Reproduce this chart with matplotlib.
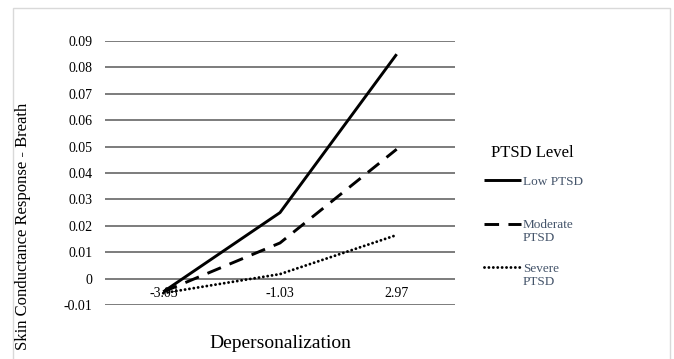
import matplotlib
matplotlib.use("Agg")
import matplotlib.pyplot as plt
from matplotlib.patches import Rectangle
from matplotlib.legend_handler import HandlerLine2D

categories = ["-3.03", "-1.03", "2.97"]
low_ptsd = [-0.005, 0.025, 0.085]
moderate_ptsd = [-0.005, 0.0135, 0.049]
severe_ptsd = [-0.0055, 0.0017, 0.0165]
series_labels = ["Low PTSD\n", "Moderate\nPTSD", "Severe\nPTSD"]
yticks = [-0.01, 0, 0.01, 0.02, 0.03, 0.04, 0.05, 0.06, 0.07, 0.08, 0.09]
ytick_labels = ["-0.01", "0", "0.01", "0.02", "0.03", "0.04", "0.05", "0.06", "0.07", "0.08", "0.09"]

plt.rcParams['font.family'] = ['Liberation Serif', 'DejaVu Serif']

W, H = 674, 359
fig = plt.figure(figsize=(W / 100, H / 100), dpi=100)
fig.patch.set_facecolor('white')

# chart border
fig.patches.append(Rectangle((13 / W, -0.1), (670 - 13) / W, 1.1 - 8 / H,
                             transform=fig.transFigure, fill=False,
                             edgecolor='#d9d9d9', linewidth=1.0))

left, right = 105 / W, 455 / W
top_px, bot_px = 41, 305
ax = fig.add_axes([left, (H - bot_px) / H, right - left, (bot_px - top_px) / H])
ax.set_facecolor('none')

x = list(range(len(categories)))
ax.plot(x, low_ptsd, color='black', linewidth=2.1, linestyle='-', label=series_labels[0],
        solid_capstyle='butt')
ax.plot(x, moderate_ptsd, color='black', linewidth=2.1, linestyle=(0, (5, 3.2)),
        label=series_labels[1], dash_capstyle='butt')
ax.plot(x, severe_ptsd, color='black', linewidth=2.1, linestyle=(0, (0.01, 1.5)),
        label=series_labels[2], dash_capstyle='round')

ax.set_xlim(-0.5, 2.5)
ax.set_ylim(-0.01, 0.09)
ax.set_yticks(yticks)
ax.set_yticklabels(ytick_labels, fontsize=10, color='black')
ax.tick_params(axis='y', length=0, pad=9)
ax.yaxis.grid(True, color='#595959', linewidth=1.1)
ax.set_axisbelow(True)

ax.set_xticks(x)
ax.set_xticklabels(categories, fontsize=10, color='#44546A')
ax.tick_params(axis='x', length=0, pad=6)
for s in ['left', 'right', 'top']:
    ax.spines[s].set_visible(False)
ax.spines['bottom'].set_position(('data', 0))
ax.spines['bottom'].set_visible(False)

fig.text(280 / W, 1 - 343 / H, "Depersonalization", fontsize=14, ha='center', va='center')
fig.text(23 / W, 1 - 226 / H, "Skin Conductance Response - Breath", fontsize=12,
         rotation=90, ha='center', va='center')
fig.text(491 / W, 1 - 153 / H, "PTSD Level", fontsize=12, ha='left', va='center')


class TopLineHandler(HandlerLine2D):
    def create_artists(self, legend, orig_handle, xdescent, ydescent, width, height,
                       fontsize, trans):
        return super().create_artists(legend, orig_handle, xdescent, ydescent - 11.5,
                                      width, height, fontsize, trans)


handles, labels = ax.get_legend_handles_labels()
leg = ax.legend(handles, labels, loc='upper left', bbox_to_anchor=(472 / W, 1 - 164 / H),
                bbox_transform=fig.transFigure, frameon=False, fontsize=9.5,
                handlelength=2.8, handletextpad=0.15, labelspacing=1.4,
                handler_map={h: TopLineHandler() for h in handles})
for t in leg.get_texts():
    t.set_color('#44546A')
    t.set_linespacing(1.1)

fig.savefig("out.png", dpi=100, facecolor='white')
